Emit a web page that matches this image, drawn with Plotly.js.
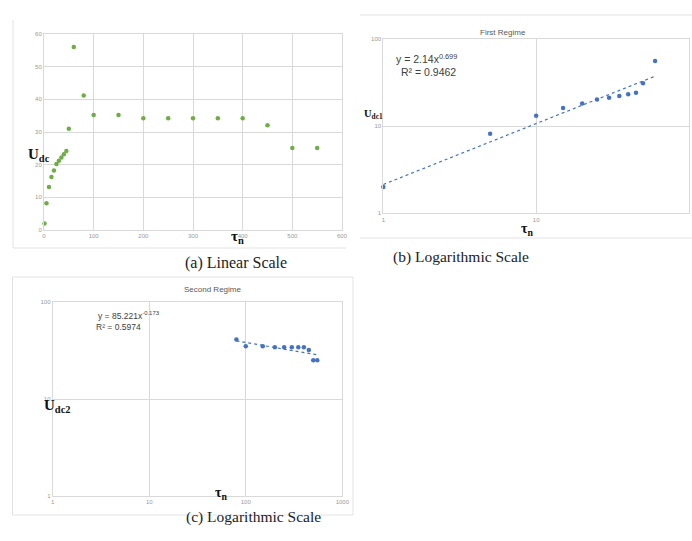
<!DOCTYPE html>
<html><head><meta charset="utf-8">
<script src="https://cdn.plot.ly/plotly-3.0.1.min.js"></script>
<style>html,body{margin:0;padding:0;background:#fff}#chart{width:692px;height:541px}</style>
</head><body><div id="chart"></div>
<script>
// ---- data ----
const tau = [1,5,10,15,20,25,30,35,40,45,50,60,80,100,150,200,250,300,350,400,450,500,550];
const udc = [2,8.2,13.2,16.2,18.2,20.2,21.2,22.2,23.2,24.2,31,56,41.2,35.2,35.2,34.2,34.2,34.2,34.2,34.2,32.1,25.1,25.1];
const tauRegime1 = [1,5,10,15,20,25,30,35,40,45,50,60];
const udcRegime1 = [2,8.2,13.2,16.2,18.2,20.2,21.2,22.2,23.2,24.2,31,56];
const tauRegime2 = [80,100,150,200,250,300,350,400,450,500,550];
const udcRegime2 = [41.2,35.2,35.2,34.2,34.2,34.2,34.2,34.2,32.1,25.1,25.1];
// power-law trendlines as printed on the chart: y = a * x^b
const fit1 = [2.14, 0.699];
const fit2 = [85.221, -0.173];
const linTicks = [0,100,200,300,400,500,600];
const linYTicks = [0,10,20,30,40,50,60];
const logTicks2 = [1,10,100];
const logTicks3 = [1,10,100,1000];

function trend(fit, xs){
  const ends=[Math.min(...xs), Math.max(...xs)];
  return {x: ends, y: ends.map(v=>fit[0]*Math.pow(v,fit[1]))};
}
const t1 = trend(fit1, tauRegime1), t2 = trend(fit2, tauRegime2);

const green='#70AD47', blue='#4472C4', grid='#d9d9d9', tickc='#999999';
const W=692,H=541;
const dx=(a,b)=>[a/W,b/W], dy=(top,bot)=>[1-bot/H,1-top/H];

const data=[
  {x:tau,y:udc,type:'scatter',mode:'markers',marker:{color:green,size:4.5},xaxis:'x',yaxis:'y',cliponaxis:false},
  {x:t1.x,y:t1.y,type:'scatter',mode:'lines',line:{color:blue,width:1.2,dash:'dot'},xaxis:'x2',yaxis:'y2'},
  {x:tauRegime1,y:udcRegime1,type:'scatter',mode:'markers',marker:{color:blue,size:4.5},xaxis:'x2',yaxis:'y2',cliponaxis:false},
  {x:t2.x,y:t2.y,type:'scatter',mode:'lines',line:{color:blue,width:1.2,dash:'dot'},xaxis:'x3',yaxis:'y3'},
  {x:tauRegime2,y:udcRegime2,type:'scatter',mode:'markers',marker:{color:blue,size:4.5},xaxis:'x3',yaxis:'y3',cliponaxis:false}
];

const axBase={showgrid:true,gridcolor:grid,gridwidth:1,showline:true,linecolor:grid,mirror:true,zeroline:false,
  ticks:'',tickfont:{size:6,color:tickc,family:'Liberation Sans'},fixedrange:true};

const layout={
  width:W,height:H,margin:{l:0,r:0,t:0,b:0},paper_bgcolor:'#fff',plot_bgcolor:'#fff',showlegend:false,
  font:{family:'Liberation Sans'},
  xaxis:Object.assign({},axBase,{domain:dx(44,342),range:[0,600],tickvals:linTicks,anchor:'y'}),
  yaxis:Object.assign({},axBase,{domain:dy(34,230),range:[0,60],tickvals:linYTicks,anchor:'x'}),
  xaxis2:Object.assign({},axBase,{type:'log',domain:dx(383.3,689),range:[0,2],tickvals:logTicks2,ticktext:logTicks2.map(String),anchor:'y2'}),
  yaxis2:Object.assign({},axBase,{type:'log',domain:dy(39,213.3),range:[0,2],tickvals:logTicks2,ticktext:logTicks2.map(String),anchor:'x2'}),
  xaxis3:Object.assign({},axBase,{type:'log',domain:dx(52.7,342.3),range:[0,3],tickvals:logTicks3,ticktext:logTicks3.map(String),anchor:'y3'}),
  yaxis3:Object.assign({},axBase,{type:'log',domain:dy(302.3,495.7),range:[0,2],tickvals:logTicks2,ticktext:logTicks2.map(String),anchor:'x3'}),
  shapes:[
    {type:'line',xref:'paper',yref:'paper',x0:13/W,x1:13/W,y0:1-248/H,y1:1-20/H,line:{color:'#e3e3e3',width:1}},
    {type:'line',xref:'paper',yref:'paper',x0:13/W,x1:346/W,y0:1-248/H,y1:1-248/H,line:{color:'#e3e3e3',width:1}},
    {type:'line',xref:'paper',yref:'paper',x0:360/W,x1:1,y0:1-15/H,y1:1-15/H,line:{color:'#e3e3e3',width:1}},
    {type:'line',xref:'paper',yref:'paper',x0:360/W,x1:1,y0:1-238/H,y1:1-238/H,line:{color:'#e3e3e3',width:1}},
    {type:'rect',xref:'paper',yref:'paper',x0:12.5/W,x1:353/W,y0:1-515/H,y1:1-277/H,line:{color:'#e3e3e3',width:1}}
  ],
  annotations:[
    {text:'<b>U<sub>dc</sub></b>',xref:'paper',yref:'paper',x:26/W,y:1-144/H,showarrow:false,font:{family:'Liberation Serif',size:15,color:'#111'}},
    {text:'<b>τ<sub>n</sub></b>',xref:'paper',yref:'paper',x:229/W,y:1-237/H,showarrow:false,font:{family:'Liberation Serif',size:15,color:'#111'}},
    {text:'First Regime',xref:'paper',yref:'paper',x:528/W,y:1-26/H,showarrow:false,font:{size:8,color:'#595959'}},
    {text:'y = 2.14x<sup>0.699</sup>',xref:'paper',yref:'paper',x:426/W,y:1-50/H,showarrow:false,font:{size:10.5,color:'#404040'}},
    {text:'R² = 0.9462',xref:'paper',yref:'paper',x:428/W,y:1-64/H,showarrow:false,font:{size:10.5,color:'#404040'}},
    {text:'<b>U<sub>dc1</sub></b>',xref:'paper',yref:'paper',x:373/W,y:1-106/H,showarrow:false,font:{family:'Liberation Serif',size:10.5,color:'#111'}},
    {text:'<b>τ<sub>n</sub></b>',xref:'paper',yref:'paper',x:535/W,y:1-229/H,showarrow:false,font:{family:'Liberation Serif',size:14,color:'#111'}},
    {text:'Second Regime',xref:'paper',yref:'paper',x:182/W,y:1-289/H,showarrow:false,font:{size:8,color:'#595959'}},
    {text:'y = 85.221x<sup>-0.173</sup>',xref:'paper',yref:'paper',x:96/W,y:1-315/H,showarrow:false,font:{size:8.5,color:'#404040'}},
    {text:'R² = 0.5974',xref:'paper',yref:'paper',x:94/W,y:1-327/H,showarrow:false,font:{size:8.5,color:'#404040'}},
    {text:'<b>U<sub>dc2</sub></b>',xref:'paper',yref:'paper',x:42/W,y:1-417/H,showarrow:false,font:{family:'Liberation Serif',size:15,color:'#111'}},
    {text:'<b>τ<sub>n</sub></b>',xref:'paper',yref:'paper',x:213/W,y:1-504/H,showarrow:false,font:{family:'Liberation Serif',size:14,color:'#111'}},
    {text:'(a) Linear Scale',xref:'paper',yref:'paper',x:183/W,y:1-263/H,showarrow:false,font:{family:'Liberation Serif',size:16,color:'#222'}},
    {text:'(b) Logarithmic Scale',xref:'paper',yref:'paper',x:531/W,y:1-257/H,showarrow:false,font:{family:'Liberation Serif',size:15.5,color:'#222'}},
    {text:'(c) Logarithmic Scale',xref:'paper',yref:'paper',x:184/W,y:1-528/H,showarrow:false,font:{family:'Liberation Serif',size:15.5,color:'#222'}}
  ]
};
Plotly.newPlot('chart',data,layout,{displayModeBar:false,staticPlot:true});
</script></body></html>
